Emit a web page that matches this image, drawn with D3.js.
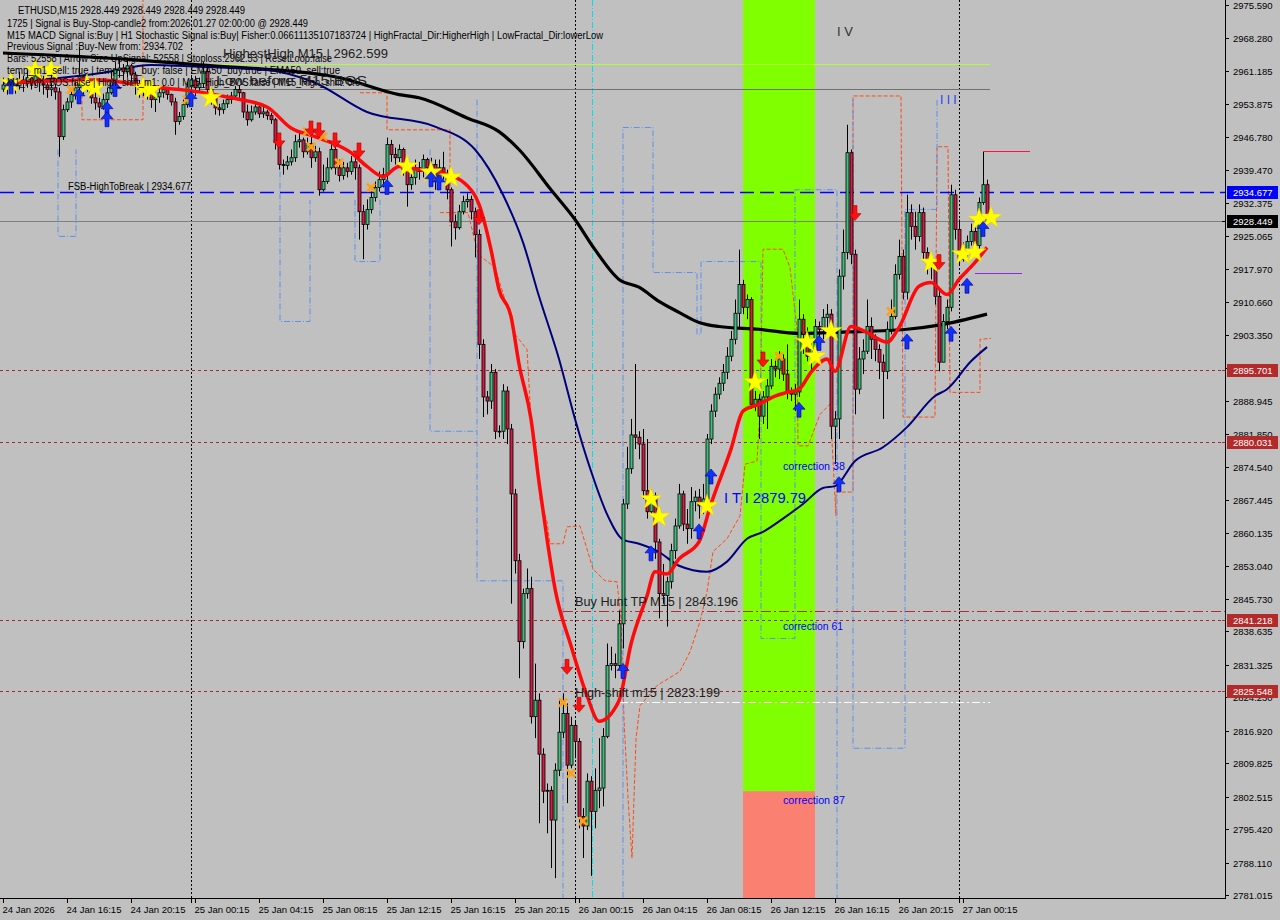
<!DOCTYPE html>
<html><head><meta charset="utf-8">
<script src="https://cdn.jsdelivr.net/npm/d3@7/dist/d3.min.js"></script>
<style>
html,body{margin:0;padding:0;background:#c0c0c0;}
svg{display:block;}
text{font-family:"Liberation Sans",Arial,sans-serif;}
</style></head><body>
<svg id="chart" width="1280" height="920"></svg>
<script>
// ---------------- DATA ----------------
const firstOpen = 2957.2;
const closes = [
2958.1,2957.5,2958.8,2957.9,2959.2,2958.4,2959.7,2958.8,2960.1,2959.2,
2958.1,2957.1,2957.5,2956.6,2946.8,2952.7,2954.4,2956.0,2957.5,2959.9,
2958.1,2958.8,2955.3,2954.2,2953.3,2954.9,2956.4,2959.2,2961.4,2961.8,
2961.0,2962.3,2960.3,2958.1,2957.1,2957.5,2956.6,2954.9,2955.5,2956.4,
2957.1,2956.0,2954.4,2950.1,2951.2,2953.8,2957.7,2959.2,2957.5,2958.4,
2961.0,2957.1,2955.5,2953.1,2952.7,2954.0,2954.9,2955.7,2957.1,2956.4,
2952.2,2950.5,2952.2,2953.3,2951.8,2952.2,2951.4,2950.5,2945.5,2940.7,
2940.5,2941.3,2942.2,2945.7,2946.1,2943.5,2945.3,2942.2,2943.5,2935.2,
2937.0,2940.0,2944.0,2940.0,2938.3,2940.0,2939.2,2941.3,2940.0,2930.4,
2927.6,2930.9,2933.5,2935.7,2937.4,2938.5,2945.1,2942.9,2942.2,2944.0,
2939.6,2936.3,2937.9,2940.0,2939.2,2941.8,2940.0,2940.7,2937.0,2940.0,
2938.5,2935.2,2928.2,2926.9,2930.4,2932.6,2933.1,2930.4,2925.4,2901.4,
2889.9,2889.0,2895.3,2882.4,2882.4,2891.2,2882.9,2868.7,2854.1,2836.4,
2846.9,2848.0,2820.0,2823.6,2811.8,2803.7,2803.9,2797.4,2808.3,2816.6,
2820.7,2809.4,2818.1,2814.6,2798.2,2796.1,2805.9,2799.3,2803.9,2804.4,
2815.7,2831.2,2831.6,2831.2,2840.3,2866.5,2874.2,2881.6,2881.1,2879.6,
2869.4,2864.8,2868.3,2858.2,2846.9,2846.5,2849.5,2856.3,2861.7,2868.7,
2862.1,2861.1,2867.0,2868.0,2866.1,2867.6,2880.7,2886.8,2890.5,2892.9,
2895.3,2898.8,2902.5,2908.2,2914.5,2909.5,2911.2,2888.3,2889.4,2885.7,
2889.9,2892.3,2896.6,2896.0,2898.2,2894.9,2891.0,2890.5,2891.0,2906.9,
2903.6,2898.8,2900.3,2905.3,2904.7,2907.3,2908.0,2883.5,2885.1,2916.3,
2921.5,2943.3,2921.1,2891.6,2898.2,2899.9,2905.3,2902.5,2900.3,2897.5,
2895.5,2904.7,2907.5,2916.7,2920.6,2912.8,2930.2,2927.2,2925.0,2930.2,
2921.5,2919.3,2918.7,2911.9,2897.5,2906.4,2909.5,2934.1,2926.5,2920.0,
2922.1,2923.9,2926.1,2923.0,2932.4,2936.3,2928.449];
const highs = [
2959.7,2959.2,2960.1,2959.4,2961.0,2960.1,2961.4,2960.8,2961.8,2961.0,
2960.1,2959.2,2963.1,2958.4,2957.5,2953.8,2955.3,2957.1,2958.8,2966.4,
2960.3,2960.3,2959.2,2956.6,2955.3,2956.2,2957.5,2961.0,2963.1,2963.6,
2962.7,2964.1,2962.7,2961.0,2959.2,2959.2,2958.4,2957.5,2956.6,2957.5,
2958.1,2957.5,2956.2,2955.3,2952.2,2954.9,2958.8,2960.3,2960.1,2959.7,
2963.1,2961.8,2957.5,2956.0,2954.0,2954.9,2956.0,2956.6,2957.9,2957.9,
2956.6,2953.8,2953.6,2954.4,2954.0,2953.6,2952.7,2952.0,2950.9,2946.1,
2941.8,2942.6,2944.0,2947.2,2947.9,2946.6,2946.6,2946.8,2944.8,2944.4,
2940.7,2942.2,2945.1,2945.1,2941.8,2941.3,2941.1,2942.6,2942.2,2940.7,
2931.9,2933.1,2934.8,2937.0,2939.2,2940.0,2946.6,2946.1,2944.4,2945.1,
2944.4,2941.8,2939.6,2941.8,2941.3,2942.9,2942.2,2942.2,2941.8,2941.8,
2943.5,2939.6,2935.7,2929.8,2931.9,2933.9,2934.4,2933.9,2931.3,2926.5,
2902.5,2891.2,2897.1,2896.0,2883.7,2892.7,2892.2,2884.0,2869.8,2855.6,
2848.0,2852.4,2850.6,2831.6,2825.1,2813.1,2805.4,2804.8,2809.8,2824.0,
2825.1,2822.9,2820.0,2819.2,2815.3,2800.0,2807.6,2807.0,2808.7,2815.3,
2817.5,2836.0,2835.3,2833.8,2843.2,2867.6,2879.0,2885.1,2897.1,2882.4,
2882.9,2880.7,2869.8,2869.0,2858.9,2853.4,2850.6,2857.8,2863.3,2870.9,
2869.4,2865.4,2870.2,2869.4,2869.8,2870.9,2881.8,2888.3,2892.0,2894.2,
2897.1,2900.8,2904.3,2911.2,2922.1,2915.5,2912.3,2911.7,2891.2,2890.5,
2891.2,2893.8,2898.2,2898.2,2899.9,2899.2,2901.4,2892.0,2892.7,2911.2,
2908.0,2905.1,2902.5,2906.9,2906.4,2909.1,2910.2,2909.1,2886.8,2917.8,
2926.5,2949.4,2944.0,2922.1,2900.8,2902.5,2911.2,2907.3,2903.6,2901.4,
2899.2,2906.4,2911.2,2918.9,2924.3,2922.1,2934.1,2932.0,2930.4,2932.0,
2931.3,2922.6,2921.1,2917.8,2913.4,2908.0,2911.2,2936.3,2935.2,2928.7,
2923.7,2925.2,2927.8,2926.9,2933.5,2943.6,2937.4];
const lows = [
2956.6,2956.0,2956.6,2956.2,2957.1,2956.6,2957.5,2957.1,2957.9,2956.6,
2956.0,2955.3,2955.7,2954.9,2942.4,2946.1,2952.2,2953.1,2954.9,2956.6,
2956.0,2956.6,2954.0,2952.7,2950.9,2952.7,2954.0,2956.0,2958.1,2959.7,
2959.2,2959.7,2958.1,2956.0,2955.3,2955.7,2954.9,2953.1,2952.2,2954.2,
2955.3,2954.9,2953.6,2947.2,2949.4,2950.5,2953.1,2957.1,2955.7,2956.6,
2957.5,2955.3,2953.8,2951.6,2951.4,2951.8,2953.1,2954.0,2954.9,2955.3,
2950.9,2949.2,2950.1,2951.6,2950.9,2950.9,2950.5,2949.6,2944.0,2939.6,
2938.5,2939.6,2940.5,2941.3,2944.4,2942.2,2942.9,2940.0,2941.3,2933.9,
2934.8,2936.5,2939.6,2938.5,2937.0,2937.4,2937.9,2938.5,2937.4,2924.3,
2920.0,2926.5,2930.0,2932.6,2934.8,2935.7,2937.4,2941.3,2940.7,2941.3,
2938.3,2931.5,2935.2,2936.3,2937.4,2937.9,2938.5,2939.2,2935.2,2936.3,
2937.4,2933.1,2922.8,2924.3,2926.5,2929.8,2931.3,2928.7,2920.4,2898.2,
2885.5,2886.1,2887.3,2880.7,2881.1,2880.7,2879.6,2844.7,2851.3,2828.4,
2834.9,2845.8,2818.5,2815.3,2796.7,2801.1,2794.5,2786.9,2784.7,2807.0,
2815.3,2801.1,2808.7,2810.9,2795.6,2789.1,2795.2,2785.2,2795.6,2800.0,
2800.4,2815.3,2830.1,2828.4,2830.5,2834.9,2865.4,2873.1,2878.5,2876.3,
2867.6,2863.3,2864.3,2854.5,2841.5,2844.7,2839.7,2848.0,2854.5,2861.1,
2860.6,2857.8,2858.9,2864.9,2863.3,2864.3,2866.5,2879.6,2885.5,2889.4,
2891.2,2893.8,2897.7,2901.4,2904.7,2908.0,2906.9,2887.3,2886.8,2880.7,
2884.0,2882.9,2891.6,2894.2,2893.8,2893.4,2889.4,2889.0,2886.8,2889.9,
2899.3,2897.7,2895.5,2898.6,2901.4,2902.5,2903.6,2880.7,2875.2,2880.7,
2913.4,2920.0,2918.9,2886.1,2890.5,2894.9,2899.3,2898.2,2897.7,2893.8,
2885.1,2893.8,2903.6,2906.9,2915.6,2911.2,2911.2,2924.3,2922.1,2923.9,
2919.5,2916.7,2915.6,2910.1,2895.5,2899.3,2904.7,2908.6,2924.3,2918.9,
2919.5,2920.4,2923.0,2922.1,2922.1,2931.9,2927.6];

// moving averages read at key bars: [barIndex, price]
const maSlow = [[0,2965.1],[33,2963.6],[49,2962.5],[83,2959.9],[99,2956.0],[104,2955.3],[116,2950.9],[124,2947.9],[129,2944.0],[137,2935.2],[143,2928.7],[148,2922.1],[154,2915.6],[159,2913.9],[164,2910.8],[169,2908.4],[174,2906.2],[179,2905.3],[189,2904.7],[199,2903.8],[207,2904.0],[226,2904.7],[234,2905.6],[246,2908.0]];
const maMid = [[0,2958.6],[25,2960.8],[37,2962.5],[49,2962.1],[66,2961.4],[78,2958.6],[91,2952.2],[108,2949.0],[118,2944.0],[125,2934.1],[130,2923.7],[134,2911.9],[139,2898.2],[143,2885.1],[147,2873.7],[151,2864.3],[155,2858.7],[159,2857.8],[164,2856.0],[169,2853.0],[176,2851.7],[181,2853.9],[186,2858.9],[190,2860.4],[195,2863.3],[200,2866.5],[205,2870.0],[208,2870.4],[213,2875.9],[220,2878.9],[226,2883.3],[233,2890.1],[236,2891.6],[242,2897.7],[246,2900.8]];
const maFast = [[1,2958.6],[24,2959.2],[37,2957.7],[49,2956.6],[57,2955.3],[66,2953.3],[72,2948.7],[78,2946.8],[87,2943.3],[91,2940.3],[95,2938.1],[99,2940.3],[104,2939.6],[110,2938.9],[117,2935.2],[119,2932.0],[122,2922.1],[124,2913.4],[127,2907.5],[129,2897.1],[132,2885.1],[134,2871.3],[136,2858.9],[138,2848.0],[142,2835.5],[146,2824.6],[149,2819.0],[154,2823.5],[157,2835.9],[161,2846.4],[163,2851.7],[166,2851.2],[169,2854.5],[174,2858.2],[177,2866.5],[182,2878.5],[185,2886.8],[189,2888.3],[193,2890.1],[196,2890.9],[199,2891.6],[202,2895.3],[206,2898.2],[208,2895.5],[212,2905.3],[216,2904.0],[221,2901.9],[224,2905.1],[229,2914.1],[232,2914.9],[236,2912.3],[239,2915.6],[243,2919.3],[246,2922.6]];

// envelope (dashed) lines: [barIndex, price]
const orangeBand = [[109.25,2930.2],[116.25,2930.2],[118.75,2921.1],[123,2918.2],[125.5,2911.2],[128,2903.6],[131,2900.3],[132,2885.1],[133.5,2877.4],[134.25,2867.6],[136,2862.6],[136.75,2857.8],[140,2857.8],[141,2861.5],[144.25,2861.7],[147.5,2852.3],[150.5,2849.7],[153.5,2849.5],[154.5,2841.4],[155.25,2819.6],[156.25,2802.2],[157.25,2789.1],[158.25,2815.2],[159.25,2822.4],[163.5,2826.8],[169.25,2829.9],[171.75,2834.2],[174.25,2840.8],[176,2847.3],[177.5,2856.1],[181,2858.9],[184.25,2863.9],[185.5,2875.2],[188.5,2875.9],[189.25,2887.2],[190,2922.2],[195,2922.2],[196.75,2918.2],[198.5,2904.7],[198.75,2879.2],[201.25,2879.2],[204.25,2886.1],[206.75,2888.3],[208.25,2863.9],[208.25,2869.1],[212.5,2869.1],[212.5,2955.7],[224.5,2955.7],[225,2885.5],[233,2885.5],[233.5,2944.6],[236.25,2944.6],[236.75,2890.9],[244.25,2890.9],[244.25,2902.5],[247,2902.7]];
const orangeTopLeft = [[19.75,2956.0],[19.75,2950.5],[35,2950.5],[35,2977]];
const orangeMidLeft = [[89.25,2956.4],[96,2956.4],[96,2948.3],[111.75,2948.3],[111.75,2927.2]];
const blueBandA = [[118.5,2954.9],[118.5,2849.7],[140,2849.7],[140,2778]];
const blueBandB = [[155,2778],[155,2948.8],[162.5,2948.8],[162.5,2917.1],[173.5,2917.1],[173.5,2903.6],[174.5,2903.6],[174.5,2919.5],[189.5,2919.5],[189.5,2837.1],[198,2837.1],[198,2935.2],[208.5,2935.2],[208.5,2778]];
const blueBandC = [[212.5,2954.9],[212.5,2813.1],[225.5,2813.1],[225.5,2930.9],[233.5,2930.9],[233.5,2954.9]];
const blueLowL1 = [[13.75,2944.0],[13.75,2925.0],[18.25,2925.0],[18.25,2944.0]];
const blueLowL2 = [[69.25,2944.0],[69.25,2906.4],[76.75,2906.4],[76.75,2933.0]];
const blueLowL3 = [[88,2933.0],[88,2919.5],[94.25,2919.5],[94.25,2933.0]];
const blueLowL4 = [[106.75,2944.0],[106.75,2882.4],[118.5,2882.4]];

// signal markers [barIndex, price]
const stars = [[2,2958.6],[8,2961.4],[12,2961.4],[21,2958.1],[23,2957.5],[35,2957.5],[37,2957.1],[52,2955.3],[101,2940.3],[107,2939.0],[112,2937.9],[162,2867.6],[164,2863.7],[176,2866.1],[188,2893.1],[201,2901.9],[203,2898.8],[207,2904.3],[232,2919.3],[240,2921.1],[243,2921.5],[244,2928.7],[247,2929.1]];
const crosses = [[17,2957.1],[46,2954.9],[76,2947.9],[77,2944.6],[80,2946.8],[84,2941.1],[92,2935.7],[140,2823.1],[142,2807.6],[145,2797.2],[194,2898.8],[222,2908.6]];
const downArrows = [[69,2946.1],[77,2948.7],[79,2948.3],[83,2946.1],[89,2943.9],[119,2929.3],[141,2831.0],[144,2822.7],[190,2898.2],[213,2930.2],[234,2919.5]];
const upArrows = [[2,2957.7],[19,2955.5],[26,2952.7],[26,2950.5],[28,2957.1],[47,2954.9],[96,2935.7],[107,2937.4],[109,2936.7],[155,2829.9],[162,2855.6],[174,2860.4],[177,2872.4],[199,2887.0],[204,2901.6],[209,2870.7],[226,2901.9],[237,2903.6],[241,2914.1],[245,2926.5]];

// price levels
const levelFSB = 2934.677, levelLast = 2928.449, levelHH = 2962.599, levelLowBOS = 2957.27;
const redLevels = [2895.701, 2880.031, 2841.218, 2825.548];
const levelBuyTP = 2843.196, levelHighShift = 2823.199;
const levelCandleHigh = 2943.6, levelPurple = 2917.1;
const zoneBars = [185, 203];
const zoneSplit = 2803.7;
const daySeparators = [47, 143, 239];
const cyanLineBar = 147.25;

// axis labels
const priceTicks = [2975.590,2968.280,2961.185,2953.875,2946.780,2939.470,2932.375,2925.065,2917.970,2910.660,2903.350,2896.255,2888.945,2881.850,2874.540,2867.445,2860.135,2853.040,2845.730,2838.635,2831.325,2824.230,2816.920,2809.825,2802.515,2795.420,2788.110,2781.015];
const timeTickBars = [0,16,32,48,64,80,96,112,128,144,160,176,192,208,224,240];
const timeLabels = ["24 Jan 2026","24 Jan 16:15","24 Jan 20:15","25 Jan 00:15","25 Jan 04:15","25 Jan 08:15","25 Jan 12:15","25 Jan 16:15","25 Jan 20:15","26 Jan 00:15","26 Jan 04:15","26 Jan 08:15","26 Jan 12:15","26 Jan 16:15","26 Jan 20:15","27 Jan 00:15"];
const headerLines = [
 ["ETHUSD,M15  2928.449 2928.449 2928.449 2928.449", 18, 227],
 ["1725 | Signal is Buy-Stop-candle2 from:2026.01.27 02:00:00 @ 2928.449", 7, 301],
 ["M15 MACD Signal is:Buy | H1 Stochastic Signal is:Buy| Fisher:0.06611135107183724 | HighFractal_Dir:HigherHigh | LowFractal_Dir:lowerLow", 7, 596],
 ["Previous Signal :Buy-New from: 2934.702", 7, 176],
 ["Bars: 52558 | Arrow Size UpSignal: 52558 | Stoploss:2962.53 | ResetLoop:false", 7, 325],
 ["temp_m1_sell: true | temp_m1_buy: false | EMA50_buy:true | EMA50_sell:true", 7, 333],
 ["M1_High_BOS:false | High_shift_m1: 0.0 | M15_High_BOS:false | M15_High_shift: 0.0", 7, 353]];

// ---------------- DRAW ----------------
const svg = d3.select('#chart');
const PR = 1225, PB = 898;
const x = d3.scaleLinear().domain([0, 246]).range([3, 987]);
const y = d3.scaleLinear().domain([2781.015, 2975.59]).range([895, 5]);
const cx = i => Math.round(x(i)) + 0.5;

svg.append('rect').attr('width',1280).attr('height',920).attr('fill','#c0c0c0');
svg.append('defs').append('clipPath').attr('id','clip').append('rect').attr('x',0).attr('y',0).attr('width',PR).attr('height',PB);
const g = svg.append('g').attr('clip-path','url(#clip)');

// zone
const zx0 = x(zoneBars[0]) , zx1 = x(zoneBars[1]);
g.append('rect').attr('x',zx0).attr('y',0).attr('width',zx1-zx0).attr('height',y(zoneSplit)).attr('fill','#7fff00');
g.append('rect').attr('x',zx0).attr('y',y(zoneSplit)).attr('width',zx1-zx0).attr('height',PB-y(zoneSplit)).attr('fill','#fa8072');

// vertical separators
daySeparators.forEach(b=>g.append('line').attr('x1',cx(b)).attr('x2',cx(b)).attr('y1',0).attr('y2',PB).attr('stroke','#000').attr('stroke-dasharray','2,2'));
g.append('line').attr('x1',cx(cyanLineBar)).attr('x2',cx(cyanLineBar)).attr('y1',0).attr('y2',PB).attr('stroke','#00e0e8').attr('stroke-dasharray','6,2,1,2');

// dashed band lines
const ln = d3.line().x(d=>x(d[0])).y(d=>y(d[1]));
[orangeBand, orangeTopLeft, orangeMidLeft].forEach(p=>g.append('path').attr('d',ln(p)).attr('fill','none').attr('stroke','#ff4a10').attr('stroke-width',1).attr('stroke-dasharray','4,2'));
[blueBandA, blueBandB, blueBandC, blueLowL1, blueLowL2, blueLowL3, blueLowL4].forEach(p=>g.append('path').attr('d',ln(p)).attr('fill','none').attr('stroke','#5a90f0').attr('stroke-width',1).attr('stroke-dasharray','6,2,1,2'));

// horizontal levels
const hline = (p, x1, x2, col, dash, w=1) => g.append('line').attr('x1',x1).attr('x2',x2).attr('y1',Math.round(y(p))+0.5).attr('y2',Math.round(y(p))+0.5).attr('stroke',col).attr('stroke-width',w).attr('stroke-dasharray',dash);
redLevels.forEach(p=>hline(p,0,PR,'#a52a2a','3,3'));
hline(levelFSB,0,PR,'#0000ff','14,6',1.3);
hline(levelLast,0,PR,'#808080',null);
hline(levelHH,200,990,'#adff2f',null);
hline(levelLowBOS,200,990,'#707070',null);
hline(levelBuyTP,563,PR,'#b03030','10,3,2,3');
hline(levelHighShift,620,990,'#ffffff','8,3,2,3');
hline(levelPurple,975,1022,'#8a2be2',null);

// MA lines
const cl = d3.line().x(d=>x(d[0])).y(d=>y(d[1])).curve(d3.curveMonotoneX);
g.append('path').attr('d',cl(maSlow)).attr('fill','none').attr('stroke','#000').attr('stroke-width',3.2);
g.append('path').attr('d',cl(maMid)).attr('fill','none').attr('stroke','#00007a').attr('stroke-width',2);

// candles
const cg = g.append('g');
closes.forEach((c,i)=>{
  const o = i===0 ? firstOpen : closes[i-1];
  const X = cx(i);
  cg.append('line').attr('x1',X).attr('x2',X).attr('y1',y(highs[i])).attr('y2',y(lows[i])).attr('stroke','#000').attr('stroke-width',1);
  const top = y(Math.max(o,c)), bot = y(Math.min(o,c));
  cg.append('rect').attr('x',X-1.5).attr('y',top).attr('width',3).attr('height',Math.max(0.8,bot-top))
    .attr('fill', c>=o ? '#3cc07a' : '#d41c44').attr('stroke','#000').attr('stroke-width',0.8);
});
hline(levelCandleHigh,983,1030,'#ff1040',null,1.2);

g.append('path').attr('d',cl(maFast)).attr('fill','none').attr('stroke','#ff0a0a').attr('stroke-width',3.5);

// markers
const starPath = d3.symbol(d3.symbolStar).size(150)();
stars.forEach(d=>g.append('path').attr('d',starPath).attr('transform',`translate(${x(d[0])},${y(d[1])})`).attr('fill','#ffff00').attr('stroke','#f0d000').attr('stroke-width',0.5));
crosses.forEach(d=>g.append('path').attr('d','M-4,-4L4,4M-4,4L4,-4').attr('transform',`translate(${x(d[0])},${y(d[1])})`).attr('stroke','#ffa010').attr('stroke-width',2.6).attr('fill','none'));
const upA = 'M0,-8L6,-1L2,-1L2,7L-2,7L-2,-1L-6,-1Z';
upArrows.forEach(d=>g.append('path').attr('d',upA).attr('transform',`translate(${x(d[0])},${y(d[1])})`).attr('fill','#1030ff').attr('stroke','#000090').attr('stroke-width',0.6));
downArrows.forEach(d=>g.append('path').attr('d',upA).attr('transform',`translate(${x(d[0])},${y(d[1])}) scale(1,-1)`).attr('fill','#ff1010').attr('stroke','#b00000').attr('stroke-width',0.6));

// chart texts
const tx = (s, X, Y, size, col, len) => { const t = g.append('text').attr('x',X).attr('y',Y).attr('font-size',size).attr('fill',col).text(s); if(len) t.attr('textLength',len).attr('lengthAdjust','spacingAndGlyphs'); return t; };
headerLines.forEach((h,k)=>tx(h[0], h[1], [14,27,39,50,62,74,86][k], 10, '#000', h[2]));
tx('HighestHigh   M15 | '+levelHH.toFixed(3), 223, 58, 13, '#202020', 165);
tx('Low before M15 BOS', 216, 85, 13, '#202020', 151);
tx('FSB-HighToBreak | '+levelFSB.toFixed(3), 68, 190, 10, '#000', 123);
tx('Buy Hunt TP M15 | '+levelBuyTP.toFixed(3), 575, 606, 12, '#202020', 163);
tx('High-shift m15 | '+levelHighShift.toFixed(3), 575, 697, 12, '#202020', 145);
tx('correction 38', 783, 470, 10.5, '#0000ff', 62);
tx('correction 61', 783, 630, 10.5, '#0000ff', 60);
tx('correction 87', 783, 804, 10.5, '#0000ff', 62);
tx('I T I 2879.79', 724, 503, 14, '#0000ff', 82);
tx('I V', 837, 36, 13, '#303030');
tx('I I I', 940, 104, 12, '#2040ff');

// frame
svg.append('line').attr('x1',PR+0.5).attr('x2',PR+0.5).attr('y1',0).attr('y2',PB+1).attr('stroke','#000');
svg.append('line').attr('x1',0).attr('x2',PR+1).attr('y1',PB+0.5).attr('y2',PB+0.5).attr('stroke','#000');

// price axis
priceTicks.forEach(p=>{
  const Y = Math.round(y(p))+0.5;
  svg.append('line').attr('x1',PR).attr('x2',PR+4).attr('y1',Y).attr('y2',Y).attr('stroke','#000');
  svg.append('text').attr('x',1233).attr('y',Y+3.5).attr('font-size',9.5).attr('fill','#000').text(p.toFixed(3));
});
const tag = (p, bg) => { const Y = Math.round(y(p)); svg.append('rect').attr('x',1227).attr('y',Y-6).attr('width',51).attr('height',13).attr('fill',bg);
  svg.append('line').attr('x1',PR-3).attr('x2',PR).attr('y1',Y+0.5).attr('y2',Y+0.5).attr('stroke',bg);
  svg.append('text').attr('x',1233).attr('y',Y+4).attr('font-size',9.5).attr('fill','#fff').text(p.toFixed(3)); };
redLevels.forEach(p=>tag(p,'#b22a2a'));
tag(levelFSB,'#0000ff');
tag(levelLast,'#000000');

// time axis
timeTickBars.forEach((b,k)=>{
  const X = cx(b);
  svg.append('line').attr('x1',X).attr('x2',X).attr('y1',PB).attr('y2',PB+5).attr('stroke','#000');
  svg.append('text').attr('x',X-1).attr('y',PB+15).attr('font-size',9.5).attr('fill','#000').text(timeLabels[k]);
});
daySeparators.forEach(b=>svg.append('line').attr('x1',cx(b)).attr('x2',cx(b)).attr('y1',PB).attr('y2',PB+5).attr('stroke','#000'));
</script></body></html>
